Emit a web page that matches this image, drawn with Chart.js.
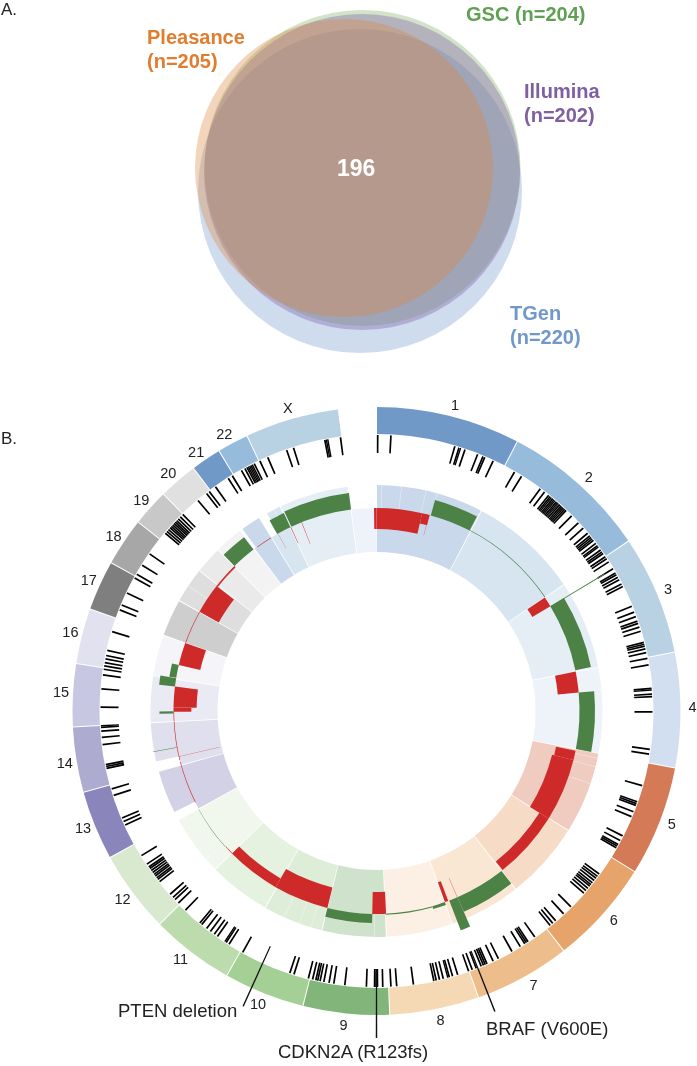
<!DOCTYPE html>
<html>
<head>
<meta charset="utf-8">
<title>Venn and Circos</title>
<script src="https://cdn.jsdelivr.net/npm/chart.js@4/dist/chart.umd.min.js"></script>
<style>
html, body { margin: 0; padding: 0; background: #fff; }
#page { position: relative; width: 697px; height: 1066px; overflow: hidden; font-family: "Liberation Sans", Arial, sans-serif; color: #222; }
canvas { position: absolute; left: 0; }
.t { position: absolute; white-space: nowrap; }
.v { font-weight: bold; font-size: 20px; line-height: 24px; }
.c { font-size: 14.5px; transform: translate(-50%, -50%); }
.g { font-size: 18.5px; }
</style>
</head>
<body>
<div id="page">
  <canvas id="venn" width="697" height="375" style="top:0"></canvas>
  <canvas id="circos" width="697" height="702" style="top:360px"></canvas>
  <div class="t" style="left:1px;top:0;font-size:17px">A.</div>
  <div class="t" style="left:1px;top:429px;font-size:17px">B.</div>
  <div class="t v" style="left:147px;top:25px;color:#e07d2f">Pleasance<br>(n=205)</div>
  <div class="t v" style="left:466px;top:2px;color:#5fa052">GSC (n=204)</div>
  <div class="t v" style="left:524px;top:79px;color:#7f5fa0">Illumina<br>(n=202)</div>
  <div class="t v" style="left:510px;top:301px;color:#7099ca">TGen<br>(n=220)</div>
  <div class="t" style="left:337px;top:155px;font-size:23px;font-weight:bold;color:#fff">196</div>
  <div class="t g" style="left:118px;top:1000px">PTEN deletion</div>
  <div class="t g" style="left:278px;top:1041px">CDKN2A (R123fs)</div>
  <div class="t g" style="left:486px;top:1018px">BRAF (V600E)</div>
</div>
<script>
/*--data--*/
var vennNames = ["TGen", "GSC", "Illumina", "Pleasance"];
var vennX = [360, 362.5, 362, 344];
var vennY = [191, 168, 172, 168];
var vennR = [162, 158, 158, 149];
var vennColors = ["rgba(118,155,206,0.35)", "rgba(129,175,101,0.35)", "rgba(120,90,170,0.35)", "rgba(221,135,64,0.35)"];

var chromNames = ["1","2","3","4","5","6","7","8","9","10","11","12","13","14","15","16","17","18","19","20","21","22","X"];
// angular size of each chromosome, degrees, starting from 12 o'clock
var chromSpans = [27.6,28.4,22.8,22,21.1,20.1,18.4,17.1,16.5,15.5,16,15.7,13.3,12.5,12,10.6,9.6,9.2,7.1,7.5,5.8,6,18];
var labelAngles = [14.4,42.2,67.3,89.3,110.9,131.3,150.2,168.3,186,202,218.3,233.5,248.2,260.6,273.4,284.4,294.4,303.7,311.9,318.8,325.2,331.2,343.7];
var chromColors = ["#7199c8","#97bbdb","#b9d2e3","#d2dff0","#d47a56","#e6a36a","#eebd8c","#f5d8b4","#81b57a","#a5d095","#bddcae","#d9e9cf","#8a85ba","#aeabd0","#c8c7e2","#e2e1ef","#7f7f7f","#a7a7a7","#c8c8c8","#e0e0e0","#7199c8","#97bbdb","#b9d2e3"];
// how far the outer part of a tile starts after the chromosome start (no coverage there)
var bandSkip = [0,0,0,0,0,0,0,0,0,0,0,0,2.1,2.5,0,0,0,0,0,0,0.5,2.1,0];
// faint divisions in the outer tile band
var bandLines = [1.3,6.3,12.6,15.5,102,104.2,108.7,180.5,196.8,199.9,204,229,303.5,333];

var mutationPos = [0.25,3,16.5,17.4,17.7,18.7,21.5,22.7,23.1,25,30,31.7,
36.4,37.5,38.6,39,39.3,39.7,40,40.3,40.7,41,41.2,41.6,42,42.3,42.6,43,43.4,45,47,
48.5,49.9,50.6,51,51.4,51.8,52.6,53.2,53.5,54.3,54.8,55.2,56,56.5,57.3,
59,60,60.4,61,61.6,62.6,63.2,67.7,69,70,71,71.5,72.3,73.2,75.6,76,76.4,77,77.8,79,80.4,
85.3,85.6,86.5,87,90.2,98,99,105.7,109.2,109.6,110,111.4,112.5,116.9,118,118.9,119.3,119.7,
126.2,126.8,127.3,127.9,128.5,129,129.4,130,130.6,131.3,135.2,137.3,139.5,140.3,141,
145,146.7,147.1,147.5,148.6,150.6,153.8,155,156.4,156.8,157.2,157.7,158.8,159.7,160.5,
162.9,164,164.7,165,166,166.8,167.5,168,172.3,175.8,177,178.7,179.8,180.1,180.4,182.1,186.6,
188.9,189.9,191,191.8,192.3,192.7,193.4,194.3,197.4,198.3,209,
212.3,213,213.3,215.2,216,217,218,219.3,219.8,223.8,225.9,226.9,227.5,228.4,
231.8,232.4,232.8,233.3,233.7,234.2,234.7,235.2,235.6,236.3,238.4,245.6,246.4,247.2,252.2,253.6,
258,258.4,258.8,263,264.5,265.8,266.6,266.9,270.8,274.6,277.5,278.7,279.4,280.1,280.9,281.6,282.7,286.7,
291.5,292.6,295.3,298.8,299.7,301.9,304.7,310.1,310.6,311.1,311.6,312,312.4,312.8,313.2,313.6,314.1,314.7,315.4,319.7,
322,322.7,324.3,327.5,328.5,330.7,331.5,332,332.3,332.6,332.9,333.2,333.7,335,336.8,341,342.5,349.2,349.5,349.8,352.5];

// leader lines for the labelled genes
var geneNames = ["BRAF (V600E)", "CDKN2A (R123fs)", "PTEN deletion"];
var genePos = [158.5, 180, 204.3];

// copy number segments: from, to, level (0 is the baseline of the track)
var gainSegments = [[15.5,27.3,0.76],[27.3,55.9,0.03],[58.9,78.4,0.76],[84.8,100.8,0.74],[142,156.5,0.76],[156.5,159,1.52],[160.3,164,0.14],[164,177.5,0.05],[181.2,194,0.43],[228,241,0.02],[269.3,269.9,0.67],[276.9,279.3,0.76],[279.4,283.1,0.33],[315.6,322.7,0.74],[330.7,334.9,0.74],[335.2,352.8,0.8]];
var lossSegments = [[0,13,-1],[13,15.2,-0.5],[56,58.9,-1],[78.8,84.8,-1],[101.3,104,-0.95],[104,122,-1.05],[122,141.6,-0.52],[159.3,160.3,-1],[177.3,181.2,-1.05],[194,209.8,-1],[209.8,225.4,-0.48],[225.4,228,-0.03],[243.3,255.5,-0.03],[256,267,-0.03],[267.2,269.8,-0.03],[269.8,271,-0.85],[271,276.9,-1.1],[283.1,289.6,-1.05],[289.7,299.2,-0.03],[299.3,308,-1.05],[308,315.6,-0.08],[324,328.7,-0.03],[359.3,360,-1]];
var gainSpikes = [[58.9,59.12,3],[259.6,259.72,1.14]];
var lossSpikes = [[15,15.08,-1],[156.5,156.6,-1],[257,257.08,-2],[330.9,330.98,-0.8],[334.9,335.05,-0.85],[338.3,338.42,-1.1]];

/*--track radii--*/
var R_CHROM = [277, 304], R_TICK = [258, 276], R_INNER = 159, R_BASE = 203, R_OUTER = 226, LEVEL_PX = 21;
var CX = 376.5, CY = 711, LABEL_R = 316, RED = "#cf2a2a", GREEN = "#4c8246";

function tint(hex, a) {
  var n = parseInt(hex.slice(1), 16);
  var c = [n >> 16, (n >> 8) & 255, n & 255].map(function (v) { return Math.round(255 - (255 - v) * a); });
  return "rgb(" + c.join(",") + ")";
}

// turns angular segments into one doughnut dataset: gaps are see-through slices
function ring(segs) {
  var data = [], colors = [], spans = [], pos = 0;
  segs.slice().sort(function (a, b) { return a.from - b.from; }).forEach(function (s) {
    var from = Math.max(s.from, pos), to = Math.min(s.to, 360);
    if (to <= from) return;
    data.push(from - pos); colors.push("rgba(0,0,0,0)"); spans.push([0, 0]);
    data.push(to - from); colors.push(s.color); spans.push([s.r0, s.r1]);
    pos = to;
  });
  data.push(360 - pos); colors.push("rgba(0,0,0,0)"); spans.push([0, 0]);
  return { data: data, backgroundColor: colors, spans: spans, borderWidth: 0, hoverOffset: 0 };
}

function levelSegs(list, color) {
  return list.map(function (s) {
    var r = R_BASE + s[2] * LEVEL_PX;
    return { from: s[0], to: s[1], r0: Math.min(r, R_BASE), r1: Math.max(r, R_BASE), color: color };
  });
}

var chromStart = [], total = 0;
chromSpans.forEach(function (v) { chromStart.push(total); total += v; });

var chromSegs = chromSpans.map(function (v, i) {
  return { from: chromStart[i] + 0.1, to: chromStart[i] + v - 0.1, r0: R_CHROM[0], r1: R_CHROM[1], color: chromColors[i] };
});
var tileSegs = chromSpans.map(function (v, i) {
  return { from: chromStart[i] + 0.12, to: chromStart[i] + v - 0.12, r0: R_INNER, r1: R_BASE, color: tint(chromColors[i], 0.38) };
});
tileSegs.push({ from: total + 0.12, to: 360, r0: R_INNER, r1: R_BASE, color: "#eef3fb" });
var bandSegs = chromSpans.map(function (v, i) {
  return { from: chromStart[i] + bandSkip[i] + 0.12, to: chromStart[i] + v - 0.12, r0: R_BASE - 0.5, r1: R_OUTER, color: tint(chromColors[i], 0.38) };
});
var lineSegs = bandLines.map(function (a) {
  return { from: a, to: a + 0.15, r0: R_BASE, r1: R_OUTER, color: "rgba(255,255,255,0.6)" };
});
var tickSegs = mutationPos.map(function (a) {
  return { from: a - 0.18, to: a + 0.18, r0: R_TICK[0], r1: R_TICK[1], color: "#000" };
});
var leaderEnds = [323, 327, 324];
var leaderSegs = genePos.map(function (a, i) {
  return { from: a - 0.13, to: a + 0.13, r0: R_TICK[0], r1: leaderEnds[i], color: "#111" };
});

// first dataset is painted last
var circosDatasets = [
  ring(leaderSegs),
  ring(levelSegs(gainSpikes, GREEN)),
  ring(levelSegs(lossSpikes, RED)),
  ring(levelSegs(gainSegments, GREEN)),
  ring(levelSegs(lossSegments, RED)),
  ring(tickSegs),
  ring(chromSegs),
  ring(lineSegs),
  ring(bandSegs),
  ring(tileSegs)
];

/*--radial spans: each arc keeps the radii of its own segment--*/
var radialSpans = {
  id: "radialSpans",
  afterDatasetsUpdate: function (chart) {
    chart.data.datasets.forEach(function (ds, i) {
      chart.getDatasetMeta(i).data.forEach(function (arc, j) {
        arc.innerRadius = ds.spans[j][0];
        arc.outerRadius = ds.spans[j][1];
      });
    });
  }
};

/*--circos--*/
var ctxC = document.getElementById("circos").getContext("2d");
var circos = new Chart(ctxC, {
  type: "doughnut",
  plugins: [radialSpans],
  data: { datasets: circosDatasets },
  options: {
    responsive: false,
    animation: false,
    rotation: 0,
    circumference: 360,
    layout: { padding: { left: 56, right: 0, top: 0, bottom: 0 } },
    plugins: { legend: { display: false }, tooltip: { enabled: false } },
    events: []
  }
});

/*--venn--*/
var ctxV = document.getElementById("venn").getContext("2d");
var venn = new Chart(ctxV, {
  type: "bubble",
  data: {
    datasets: vennNames.map(function (name, i) {
      return {
        label: name,
        data: [{ x: vennX[i], y: vennY[i], r: vennR[i] }],
        backgroundColor: vennColors[i],
        borderWidth: 0,
        clip: false,
        order: vennNames.length - i
      };
    })
  },
  options: {
    responsive: false,
    animation: false,
    layout: { padding: 0, autoPadding: false },
    scales: {
      x: { type: "linear", min: 0, max: 697, display: false },
      y: { type: "linear", min: 0, max: 375, reverse: true, display: false }
    },
    plugins: { legend: { display: false }, tooltip: { enabled: false } },
    events: []
  }
});

/*--chromosome labels--*/
var page = document.getElementById("page");
chromNames.forEach(function (name, i) {
  var a = labelAngles[i] * Math.PI / 180;
  var d = document.createElement("div");
  d.className = "t c";
  d.textContent = name;
  d.style.left = (CX + LABEL_R * Math.sin(a)) + "px";
  d.style.top = (CY - LABEL_R * Math.cos(a)) + "px";
  page.appendChild(d);
});
</script>
</body>
</html>
